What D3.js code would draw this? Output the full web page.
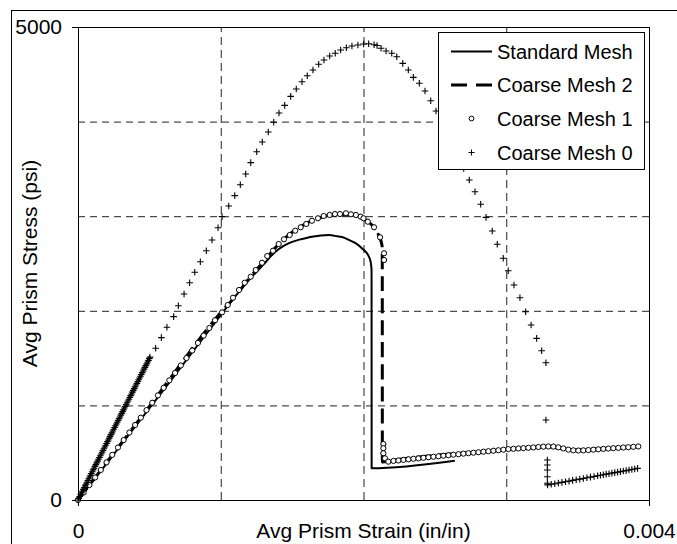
<!DOCTYPE html>
<html>
<head>
<meta charset="utf-8">
<script src="https://cdn.jsdelivr.net/npm/d3@7"></script>
<style>
  body { margin: 0; background: #fff; }
  svg { display: block; }
  text { font-family: Arial, "Liberation Sans", sans-serif; fill: #000; }
</style>
</head>
<body>
<svg id="chart" width="677" height="544"></svg>
<script>
// Axis ticks and dashed grid positions
const strainTicks = [0, 0.004];
const strainTickLabels = ["0", "0.004"];
const stressTicks = [0, 5000];
const stressTickLabels = ["0", "5000"];
const strainGrid = [0.001, 0.002, 0.003];
const stressGrid = [1000, 2000, 3000, 4000];

const seriesNames = ["Standard Mesh", "Coarse Mesh 2", "Coarse Mesh 1", "Coarse Mesh 0"];

// Standard Mesh (solid line)
const standardStrain = [0, 0.0002, 0.0004, 0.0006, 0.0008, 0.001, 0.0011, 0.0012, 0.0013, 0.00135,
  0.0014, 0.00145, 0.0015, 0.00155, 0.0016, 0.00165, 0.0017, 0.00176, 0.0018, 0.00185,
  0.0019, 0.00195, 0.002, 0.00203, 0.00205, 0.002056, 0.0020565, 0.002057, 0.00264];
const standardStress = [0, 385, 775, 1165, 1560, 1955, 2150, 2330, 2490, 2575,
  2645, 2695, 2728, 2752, 2770, 2785, 2796, 2801, 2792, 2780,
  2748, 2710, 2645, 2595, 2519, 2440, 2380, 335, 415];

// Coarse Mesh 2 (thick dashed line)
const coarse2Strain = [0, 0.0005, 0.001, 0.0011, 0.0012, 0.0013, 0.0014, 0.0015, 0.0016, 0.0017,
  0.0018, 0.0019, 0.002, 0.00205, 0.0021, 0.00213, 0.0021315, 0.002132, 0.0022, 0.0025,
  0.0028, 0.0031, 0.0033, 0.00345, 0.0036, 0.00375, 0.00392];
const coarse2Stress = [0, 990, 1980, 2150, 2345, 2520, 2695, 2830, 2925, 2985,
  3015, 3015, 2975, 2920, 2820, 2690, 2516, 402, 418, 472,
  508, 543, 563, 528, 538, 550, 562];

// Coarse Mesh 1 (open circles)
const coarse1Strain = [0, 0.00004, 0.00008, 0.00012, 0.00016, 0.0002, 0.00024, 0.00028, 0.00032, 0.00036,
  0.0004, 0.00044, 0.00048, 0.00052, 0.00056, 0.0006, 0.00064, 0.00068, 0.00072, 0.00076,
  0.0008, 0.00084, 0.00088, 0.00092, 0.00096,
  0.001009, 0.001049, 0.001086, 0.001128, 0.001168, 0.00121, 0.001245, 0.001289, 0.001326, 0.001366,
  0.001406, 0.001443, 0.001483, 0.001522, 0.00156, 0.001599, 0.001639, 0.001681, 0.001721, 0.001763,
  0.0018, 0.001835, 0.001877, 0.001912, 0.001947, 0.00198, 0.002, 0.00203, 0.002074, 0.002116,
  0.002144, 0.002144, 0.002139, 0.002139, 0.002139, 0.00215, 0.002174,
  0.00221, 0.002245, 0.00228, 0.002315, 0.00235, 0.002385, 0.00242, 0.002455, 0.00249, 0.002525,
  0.00256, 0.002595, 0.00263, 0.002665, 0.0027, 0.002735, 0.00277, 0.002805, 0.00284, 0.002875,
  0.00291, 0.002945, 0.00298, 0.003015, 0.00305, 0.003085, 0.00312, 0.003155, 0.00319, 0.003225,
  0.00326, 0.003295, 0.00333, 0.003365, 0.0034, 0.003435, 0.00347, 0.003505, 0.00354, 0.003575,
  0.00361, 0.003645, 0.00368, 0.003715, 0.00375, 0.003785, 0.00382, 0.003855, 0.00389, 0.003925];
const coarse1Stress = [0, 79, 158, 238, 318, 398, 477, 555, 634, 713,
  793, 870, 950, 1028, 1106, 1186, 1265, 1343, 1422, 1500,
  1580, 1660, 1738, 1818, 1900,
  1984, 2061, 2138, 2220, 2297, 2360, 2431, 2508, 2579, 2635,
  2706, 2756, 2801, 2847, 2883, 2918, 2952, 2978, 3002, 3013,
  3023, 3023, 3031, 3020, 3013, 2995, 2978, 2942, 2883, 2777,
  2608, 2537, 592, 547, 494, 441, 405,
  413, 418, 424, 430, 436, 440, 446, 452, 457, 462,
  468, 473, 479, 484, 490, 495, 500, 505, 511, 516,
  521, 526, 532, 538, 541, 545, 548, 552, 556, 560,
  564, 566, 565, 557, 545, 532, 525, 523, 525, 528,
  532, 536, 540, 544, 548, 551, 555, 558, 562, 566];

// Coarse Mesh 0 (plus markers): dense initial loading, then the sparse curve and the residual branch
const coarse0Strain = [0, 0.0000063, 0.0000125, 0.0000188, 0.000025, 0.0000313, 0.0000375, 0.0000438, 0.00005, 0.0000563,
  0.0000625, 0.0000688, 0.000075, 0.0000813, 0.0000875, 0.0000938, 0.0001, 0.0001063, 0.0001125, 0.0001188,
  0.000125, 0.0001313, 0.0001375, 0.0001438, 0.00015, 0.0001563, 0.0001625, 0.0001688, 0.000175, 0.0001813,
  0.0001875, 0.0001938, 0.0002, 0.0002063, 0.0002125, 0.0002188, 0.000225, 0.0002313, 0.0002375, 0.0002438,
  0.00025, 0.0002563, 0.0002625, 0.0002688, 0.000275, 0.0002813, 0.0002875, 0.0002938, 0.0003, 0.0003063,
  0.0003125, 0.0003188, 0.000325, 0.0003313, 0.0003375, 0.0003438, 0.00035, 0.0003563, 0.0003625, 0.0003688,
  0.000375, 0.0003813, 0.0003875, 0.0003938, 0.0004, 0.0004063, 0.0004125, 0.0004188, 0.000425, 0.0004313,
  0.0004375, 0.0004438, 0.00045, 0.0004563, 0.0004625, 0.0004688, 0.000475, 0.0004813, 0.0004875, 0.0004938,
  0.0005, 0.000504,
  0.000544, 0.000584, 0.000623, 0.00067, 0.000703, 0.000743, 0.000782, 0.000818, 0.000857, 0.000899,
  0.000939, 0.000981, 0.001009, 0.001056, 0.001098, 0.001137, 0.001175, 0.00121, 0.001252, 0.001291,
  0.001333, 0.001371, 0.001408, 0.001448, 0.00149, 0.001529, 0.001569, 0.001606, 0.001646, 0.001686,
  0.001723, 0.001763, 0.001802, 0.00184, 0.00188, 0.001919, 0.001961, 0.002001, 0.002036, 0.002074,
  0.002095, 0.002123, 0.002158, 0.002198, 0.002233, 0.002275, 0.002314, 0.002349, 0.002391, 0.002431,
  0.002471, 0.002508, 0.002546, 0.002585, 0.002623, 0.002662, 0.002702, 0.002741, 0.002781, 0.002821,
  0.002858, 0.002902, 0.002937, 0.002979, 0.003014, 0.003054, 0.003096, 0.003136, 0.003174, 0.003213,
  0.003248, 0.003278, 0.003278,
  0.003288, 0.003288, 0.003288, 0.003288, 0.003288,
  0.00329, 0.003315, 0.00334, 0.003365, 0.00339, 0.003415, 0.00344, 0.003465, 0.00349, 0.003515,
  0.00354, 0.003565, 0.00359, 0.003615, 0.00364, 0.00366, 0.00368, 0.0037, 0.00372, 0.00374,
  0.00376, 0.00378, 0.0038, 0.00382, 0.00384, 0.00386, 0.00388, 0.0039, 0.00392];
const coarse0Stress = [0, 19, 37, 56, 75, 93, 112, 131, 150, 168,
  187, 206, 224, 243, 262, 280, 299, 318, 336, 355,
  374, 392, 411, 430, 449, 467, 486, 505, 523, 542,
  561, 579, 598, 617, 635, 654, 673, 691, 710, 729,
  748, 766, 785, 804, 822, 841, 860, 878, 897, 916,
  934, 953, 972, 990, 1009, 1028, 1047, 1065, 1084, 1103,
  1121, 1140, 1159, 1177, 1196, 1215, 1233, 1252, 1271, 1290,
  1308, 1327, 1346, 1364, 1383, 1402, 1420, 1439, 1458, 1476,
  1495, 1510,
  1604, 1716, 1826, 1938, 2054, 2178, 2297, 2407, 2519, 2635,
  2748, 2878, 2995, 3108, 3217, 3333, 3446, 3566, 3682, 3784,
  3890, 3993, 4091, 4172, 4267, 4345, 4422, 4485, 4545, 4606,
  4651, 4693, 4722, 4757, 4781, 4799, 4810, 4820, 4823, 4813,
  4804, 4775, 4746, 4722, 4686, 4616, 4545, 4468, 4405, 4323,
  4221, 4112, 4001, 3879, 3753, 3626, 3504, 3383, 3259, 3126,
  2988, 2844, 2703, 2555, 2424, 2273, 2138, 1990, 1850, 1709,
  1578, 1451, 846,
  423, 370, 317, 246, 177,
  160, 166, 172, 179, 186, 193, 200, 207, 214, 221,
  228, 235, 242, 249, 256, 262, 267, 273, 278, 284,
  289, 295, 300, 306, 311, 317, 322, 328, 334];

const zip = (xs, ys) => xs.map((v, i) => ({ strain: v, stress: ys[i] }));

const svg = d3.select("#chart");
const W = 677, H = 544;
const plot = { left: 78, right: 649, top: 27, bottom: 500 };

const x = d3.scaleLinear().domain([0, 0.004]).range([plot.left, plot.right]);
const y = d3.scaleLinear().domain([0, 5000]).range([plot.bottom, plot.top]);

// Page background and outer chart frame
svg.append("rect").attr("width", W).attr("height", H).attr("fill", "#fff");
svg.append("rect").attr("x", 11.5).attr("y", 10.5).attr("width", 720).attr("height", 600)
  .attr("fill", "#fff").attr("stroke", "#000").attr("stroke-width", 1);

// Dashed grid
const gridH = svg.append("g").attr("transform", `translate(${plot.left},0)`)
  .call(d3.axisLeft(y).tickValues(stressGrid).tickSize(-(plot.right - plot.left)).tickFormat(""));
const gridV = svg.append("g").attr("transform", `translate(0,${plot.bottom})`)
  .call(d3.axisBottom(x).tickValues(strainGrid).tickSize(-(plot.bottom - plot.top)).tickFormat(""));
[gridH, gridV].forEach(g => {
  g.select(".domain").remove();
  g.selectAll(".tick line").attr("stroke", "#222").attr("stroke-width", 1);
});
gridH.selectAll(".tick line").attr("stroke-dasharray", "7,5");
gridV.selectAll(".tick line").attr("stroke-dasharray", "8,5");

// Plot frame
svg.append("rect")
  .attr("x", plot.left + 0.5).attr("y", plot.top + 0.5)
  .attr("width", plot.right - plot.left).attr("height", plot.bottom - plot.top)
  .attr("fill", "none").attr("stroke", "#000").attr("stroke-width", 1);

// Axes with end ticks only
const fontSize = 21;
const xAxis = svg.append("g").attr("transform", `translate(0,${plot.bottom})`)
  .call(d3.axisBottom(x).tickValues(strainTicks).tickSize(6).tickPadding(17)
    .tickFormat((d, i) => strainTickLabels[i]));
const yAxis = svg.append("g").attr("transform", `translate(${plot.left},0)`)
  .call(d3.axisLeft(y).tickValues(stressTicks).tickSize(6).tickPadding(10)
    .tickFormat((d, i) => stressTickLabels[i]));
[xAxis, yAxis].forEach(g => {
  g.select(".domain").remove();
  g.selectAll(".tick line").attr("stroke", "#000");
  g.selectAll(".tick text").attr("font-size", fontSize)
    .attr("font-family", "Arial, 'Liberation Sans', sans-serif").attr("fill", "#000");
});

// Axis titles
svg.append("text").attr("x", (plot.left + plot.right) / 2).attr("y", 538)
  .attr("text-anchor", "middle").attr("font-size", fontSize)
  .text("Avg Prism Strain (in/in)");
svg.append("text")
  .attr("transform", `translate(37,${(plot.top + plot.bottom) / 2}) rotate(-90)`)
  .attr("text-anchor", "middle").attr("font-size", fontSize)
  .text("Avg Prism Stress (psi)");

const line = d3.line().x(d => x(d.strain)).y(d => y(d.stress)).curve(d3.curveMonotoneX);
const plusPath = "M-3.3,0H3.3M0,-3.3V3.3";

// Standard Mesh
svg.append("path").datum(zip(standardStrain, standardStress))
  .attr("d", line).attr("fill", "none").attr("stroke", "#000")
  .attr("stroke-width", 2).attr("stroke-linejoin", "round");

// Coarse Mesh 2
svg.append("path").datum(zip(coarse2Strain, coarse2Stress))
  .attr("d", line).attr("fill", "none").attr("stroke", "#000")
  .attr("stroke-width", 3).attr("stroke-dasharray", "15,7");

// Coarse Mesh 1
svg.append("g").selectAll("circle").data(zip(coarse1Strain, coarse1Stress)).join("circle")
  .attr("cx", d => x(d.strain)).attr("cy", d => y(d.stress)).attr("r", 2.6)
  .attr("fill", "#fff").attr("stroke", "#000").attr("stroke-width", 1);

// Coarse Mesh 0
svg.append("g").selectAll("path").data(zip(coarse0Strain, coarse0Stress)).join("path")
  .attr("transform", d => `translate(${x(d.strain)},${y(d.stress)})`)
  .attr("d", plusPath).attr("fill", "none").attr("stroke", "#000").attr("stroke-width", 1.1);

// Legend
const legend = svg.append("g");
legend.append("rect").attr("x", 438.5).attr("y", 32.5).attr("width", 206).attr("height", 137)
  .attr("fill", "#fff").attr("stroke", "#000").attr("stroke-width", 1);
const rowY = [51.5, 85, 118.5, 152.5];
seriesNames.forEach((name, i) => {
  const cy = rowY[i];
  if (i === 0) {
    legend.append("line").attr("x1", 451).attr("x2", 492).attr("y1", cy).attr("y2", cy)
      .attr("stroke", "#000").attr("stroke-width", 2);
  } else if (i === 1) {
    legend.append("line").attr("x1", 451).attr("x2", 492).attr("y1", cy).attr("y2", cy)
      .attr("stroke", "#000").attr("stroke-width", 3).attr("stroke-dasharray", "16,9");
  } else if (i === 2) {
    legend.append("circle").attr("cx", 471.5).attr("cy", cy).attr("r", 2.4)
      .attr("fill", "#fff").attr("stroke", "#000");
  } else {
    legend.append("path").attr("transform", `translate(471.5,${cy})`).attr("d", "M-3,0H3M0,-3V3")
      .attr("fill", "none").attr("stroke", "#000");
  }
  legend.append("text").attr("x", 497).attr("y", cy + 7).attr("font-size", 20).text(name);
});
</script>
</body>
</html>
